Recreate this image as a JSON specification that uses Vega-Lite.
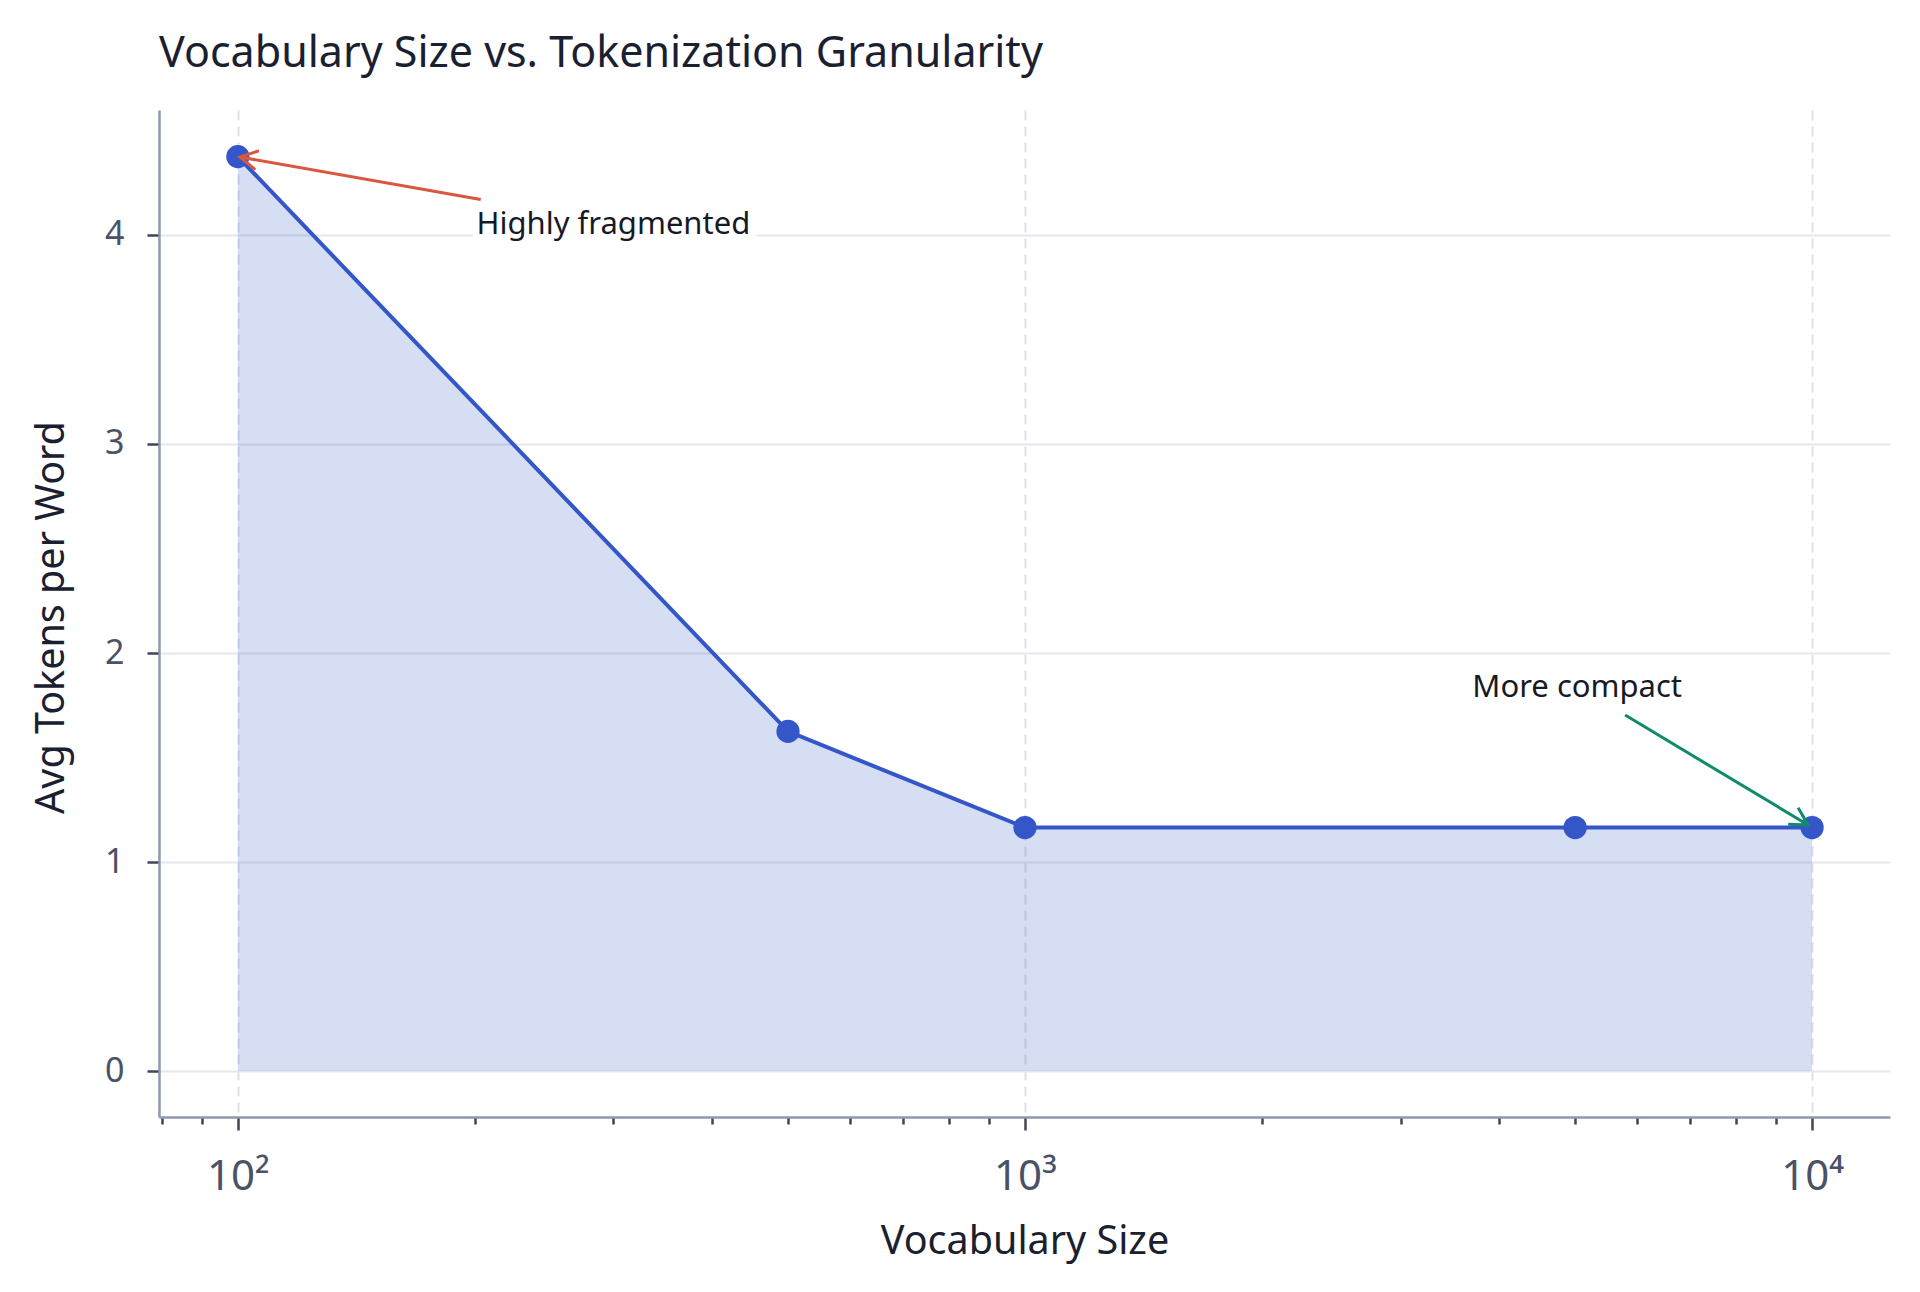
{
  "$schema": "https://vega.github.io/schema/vega-lite/v6.json",
  "width": 1731,
  "height": 1007,
  "autosize": {"type": "none"},
  "padding": {"left": 159, "top": 110, "right": 30, "bottom": 175},
  "background": "white",
  "config": {"view": {"stroke": null}, "font": "Noto Sans"},
  "title": {
    "text": "Vocabulary Size vs. Tokenization Granularity",
    "anchor": "start",
    "frame": "group",
    "font": "Noto Sans",
    "fontSize": 43,
    "fontWeight": "normal",
    "color": "#1b2030",
    "offset": 34
  },
  "datasets": {
    "tokens": [
      {"vocab_size": 100, "avg_tokens": 4.375},
      {"vocab_size": 500, "avg_tokens": 1.625},
      {"vocab_size": 1000, "avg_tokens": 1.165},
      {"vocab_size": 5000, "avg_tokens": 1.165},
      {"vocab_size": 10000, "avg_tokens": 1.165}
    ],
    "notes": [
      {"label": "Highly fragmented", "vocab_size": 300, "avg_tokens": 4.005},
      {"label": "More compact", "vocab_size": 5030, "avg_tokens": 1.79}
    ],
    "note_boxes": [
      {"vocab_size": 199, "vocab_size_end": 456, "avg_tokens": 3.965, "avg_tokens_end": 4.165}
    ],
    "arrows": [
      {"kind": "fragmented", "vocab_size": 100.6, "avg_tokens": 4.373, "vocab_size_tail": 203.5, "avg_tokens_tail": 4.17},
      {"kind": "compact", "vocab_size": 9886, "avg_tokens": 1.177, "vocab_size_tail": 5787, "avg_tokens_tail": 1.703}
    ]
  },
  "encoding": {
    "x": {
      "field": "vocab_size",
      "type": "quantitative",
      "scale": {"type": "log", "domain": [79.4, 12560], "nice": false},
      "axis": {
        "title": "Vocabulary Size",
        "values": [80, 90, 100, 200, 300, 400, 500, 600, 700, 800, 900, 1000, 2000, 3000, 4000, 5000, 6000, 7000, 8000, 9000, 10000],
        "labelExpr": "datum.value == 100 ? '10²' : datum.value == 1000 ? '10³' : datum.value == 10000 ? '10⁴' : ''",
        "labelFont": "Noto Sans",
        "labelFontSize": 42,
        "labelColor": "#4a5366",
        "labelBaseline": "alphabetic",
        "labelPadding": 59,
        "labelFlush": false,
        "labelOverlap": false,
        "labelBound": false,
        "tickSize": {"condition": {"test": "indexof([100, 1000, 10000], datum.value) >= 0", "value": 13}, "value": 7},
        "tickWidth": 2.5,
        "tickColor": "#3d4557",
        "grid": true,
        "gridOpacity": {"condition": {"test": "indexof([100, 1000, 10000], datum.value) >= 0", "value": 1}, "value": 0},
        "gridDash": [10, 6],
        "gridColor": "#dde1e8",
        "gridWidth": 2,
        "domainColor": "#8d97ae",
        "domainWidth": 2.5,
        "titleFont": "Noto Sans",
        "titleFontSize": 39.5,
        "titleFontWeight": "normal",
        "titleColor": "#1b2030",
        "titleBaseline": "alphabetic",
        "titleY": 136
      }
    },
    "y": {
      "field": "avg_tokens",
      "type": "quantitative",
      "scale": {"domain": [-0.22, 4.598], "nice": false, "zero": false},
      "axis": {
        "title": "Avg Tokens per Word",
        "values": [0, 1, 2, 3, 4],
        "labelFont": "Noto Sans",
        "labelFontSize": 34,
        "labelColor": "#4a5366",
        "labelPadding": 23,
        "tickSize": 12,
        "tickWidth": 2.5,
        "tickColor": "#3d4557",
        "grid": true,
        "gridColor": "#e5e8ee",
        "gridWidth": 2,
        "domainColor": "#8d97ae",
        "domainWidth": 2.5,
        "titleFont": "Noto Sans",
        "titleFontSize": 39.5,
        "titleFontWeight": "normal",
        "titleColor": "#1b2030",
        "titleAngle": -90,
        "titleAlign": "center",
        "titleBaseline": "alphabetic",
        "titleX": -96,
        "titleY": 507
      }
    }
  },
  "layer": [
    {
      "data": {"name": "tokens"},
      "mark": {"type": "area", "color": "#3158c4", "opacity": 0.2},
      "encoding": {"y2": {"datum": 0}}
    },
    {
      "data": {"name": "tokens"},
      "mark": {"type": "line", "color": "#3456c8", "strokeWidth": 4},
      "encoding": {}
    },
    {
      "data": {"name": "tokens"},
      "mark": {"type": "point", "filled": true, "size": 540, "color": "#3456c8", "opacity": 1}
    },
    {
      "data": {"name": "note_boxes"},
      "mark": {"type": "rect", "color": "white"},
      "encoding": {
        "x2": {"field": "vocab_size_end"},
        "y2": {"field": "avg_tokens_end"}
      }
    },
    {
      "data": {"name": "notes"},
      "mark": {"type": "text", "font": "Noto Sans", "fontSize": 31, "align": "center", "baseline": "alphabetic", "color": "#161a26"},
      "encoding": {"text": {"field": "label"}}
    },
    {
      "data": {"name": "arrows"},
      "mark": {"type": "rule", "strokeWidth": 3},
      "encoding": {
        "x2": {"field": "vocab_size_tail"},
        "y2": {"field": "avg_tokens_tail"},
        "color": {"field": "kind", "type": "nominal", "scale": {"domain": ["fragmented", "compact"], "range": ["#d9573f", "#0f8a6d"]}, "legend": null}
      }
    },
    {
      "data": {"name": "arrows"},
      "transform": [{"filter": "datum.kind == 'fragmented'"}],
      "mark": {"type": "point", "shape": "M-1,-0.55L0,0L-1,0.55", "filled": false, "size": 1225, "strokeWidth": 3, "angle": 190.6, "opacity": 1},
      "encoding": {
        "color": {"field": "kind", "type": "nominal", "legend": null}
      }
    },
    {
      "data": {"name": "arrows"},
      "transform": [{"filter": "datum.kind == 'compact'"}],
      "mark": {"type": "point", "shape": "M-1,-0.55L0,0L-1,0.55", "filled": false, "size": 1225, "strokeWidth": 3, "angle": 31, "opacity": 1},
      "encoding": {
        "color": {"field": "kind", "type": "nominal", "legend": null}
      }
    }
  ]
}
